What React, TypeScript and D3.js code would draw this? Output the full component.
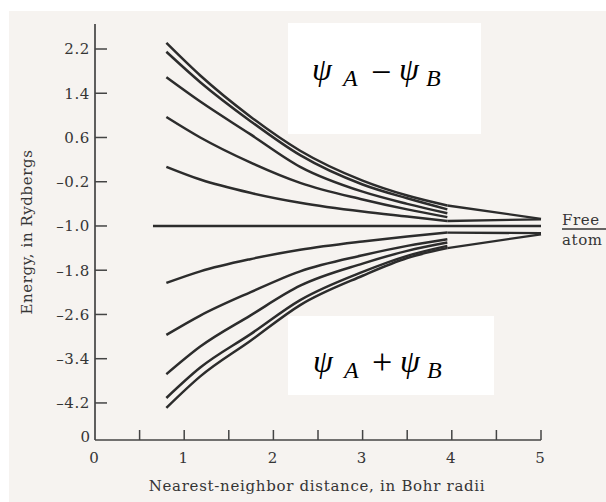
import React from "react";
import * as d3 from "d3";

const WIDTH = 606;
const HEIGHT = 502;

// Nearest-neighbour distances (Bohr radii) at which each level is sampled
const distances = [0.8, 1.18, 1.74, 2.3, 3.0, 3.5, 3.95];

// Antibonding branch (psi_A - psi_B), top curve first, in Rydbergs
const antibonding1 = [2.31, 1.72, 0.98, 0.36, -0.18, -0.45, -0.63];
const antibonding2 = [2.15, 1.6, 0.9, 0.28, -0.25, -0.5, -0.7];
const antibonding3 = [1.69, 1.25, 0.66, 0.07, -0.38, -0.6, -0.77];
const antibonding4 = [0.97, 0.6, 0.15, -0.22, -0.52, -0.7, -0.84];
const antibonding5 = [0.07, -0.16, -0.4, -0.58, -0.74, -0.83, -0.91];

// Bonding branch (psi_A + psi_B), top curve first, in Rydbergs
const bonding1 = [-2.03, -1.82, -1.6, -1.43, -1.28, -1.19, -1.12];
const bonding2 = [-2.97, -2.62, -2.2, -1.82, -1.53, -1.36, -1.24];
const bonding3 = [-3.68, -3.18, -2.62, -2.08, -1.68, -1.45, -1.3];
const bonding4 = [-4.11, -3.56, -2.96, -2.34, -1.83, -1.54, -1.36];
const bonding5 = [-4.29, -3.72, -3.08, -2.43, -1.9, -1.58, -1.4];

// Band edges running out to the free-atom limit
const tailDistances = [3.95, 5.0];
const antibondingOuterTail = [-0.63, -0.87];
const antibondingInnerTail = [-0.91, -0.88];
const bondingInnerTail = [-1.12, -1.13];
const bondingOuterTail = [-1.4, -1.15];

// Free-atom level
const freeAtomLevel = -1.0;
const freeAtomSpan = [0.65, 5.0];

// Axes
const yTickValues = [2.2, 1.4, 0.6, -0.2, -1.0, -1.8, -2.6, -3.4, -4.2];
const yTickLabels = ["2.2", "1.4", "0.6", "\u20130.2", "\u20131.0", "\u20131.8", "\u20132.6", "\u20133.4", "\u20134.2"];
const yFloor = -4.87; // broken-axis floor, labelled 0
const yFloorLabel = "0";
const yCeiling = 2.65;
const xTickValues = [0.5, 1, 1.5, 2, 2.5, 3, 3.5, 4, 4.5, 5];
const xLabelValues = [0, 1, 2, 3, 4, 5];
const xLabels = ["0", "1", "2", "3", "4", "5"];

const INK = "#2c2c2c";
const AXIS = "#444";
const TEXT = "#353535";
const PAPER = "#f6f3f0";
const SERIF = "'DejaVu Serif', serif";
const MATH = "'Liberation Serif', 'Times New Roman', serif";

function Combination({ x0, base, op, opShift }: { x0: number; base: number; op: string; opShift: number }) {
  // psi_A (op) psi_B laid out term by term
  return (
    <g fontFamily={MATH} fill="#000">
      <text x={x0} y={base} fontSize={32} fontStyle="italic">{"\u03C8"}</text>
      <text x={x0 + 31} y={base + 6} fontSize={24} fontStyle="italic">A</text>
      <text x={x0 + 59} y={base + opShift} fontSize={36}>{op}</text>
      <text x={x0 + 87} y={base} fontSize={32} fontStyle="italic">{"\u03C8"}</text>
      <text x={x0 + 114} y={base + 6} fontSize={24} fontStyle="italic">B</text>
    </g>
  );
}

export default function App() {
  const x = d3.scaleLinear().domain([0, 5]).range([95, 541]);
  const y = d3.scaleLinear().domain([yFloor, 2.2]).range([440, 49]);

  const smooth = d3
    .line<[number, number]>()
    .x((d) => x(d[0]))
    .y((d) => y(d[1]))
    .curve(d3.curveMonotoneX);
  const straight = d3
    .line<[number, number]>()
    .x((d) => x(d[0]))
    .y((d) => y(d[1]));

  const bands = [
    antibonding1, antibonding2, antibonding3, antibonding4, antibonding5,
    bonding1, bonding2, bonding3, bonding4, bonding5,
  ];
  const tails = [antibondingOuterTail, antibondingInnerTail, bondingInnerTail, bondingOuterTail];

  const pair = (xs: number[], ys: number[]) => xs.map((v, i) => [v, ys[i]] as [number, number]);

  const axisFloor = y(yFloor);
  const axisLeft = x(0);

  return (
    <svg width={WIDTH} height={HEIGHT} style={{ position: "absolute", left: 0, top: 0, background: "#ffffff" }}>
      <rect x={9} y={11} width={WIDTH - 9} height={HEIGHT - 11} fill={PAPER} />

      {/* label boxes */}
      <rect x={288} y={23} width={193} height={111} fill="#ffffff" />
      <rect x={288} y={316} width={206} height={79} fill="#ffffff" />

      {/* free-atom level */}
      <path
        d={straight([[freeAtomSpan[0], freeAtomLevel], [freeAtomSpan[1], freeAtomLevel]]) || ""}
        stroke={INK}
        strokeWidth={2.5}
        fill="none"
      />

      {/* energy levels vs distance */}
      {bands.map((vals, i) => (
        <path
          key={"b" + i}
          d={smooth(pair(distances, vals)) || ""}
          stroke={INK}
          strokeWidth={2.5}
          fill="none"
        />
      ))}
      {tails.map((vals, i) => (
        <path
          key={"t" + i}
          d={straight(pair(tailDistances, vals)) || ""}
          stroke={INK}
          strokeWidth={2.3}
          fill="none"
        />
      ))}

      {/* axes */}
      <line x1={axisLeft} x2={axisLeft} y1={y(yCeiling)} y2={axisFloor} stroke={AXIS} strokeWidth={1.7} />
      <line x1={axisLeft} x2={x(5)} y1={axisFloor} y2={axisFloor} stroke={AXIS} strokeWidth={1.7} />
      {yTickValues.map((v, i) => (
        <g key={"yt" + i}>
          <line x1={axisLeft} x2={axisLeft + 12} y1={y(v)} y2={y(v)} stroke={AXIS} strokeWidth={1.5} />
          <text
            x={axisLeft - 5}
            y={y(v)}
            dy="0.36em"
            textAnchor="end"
            fontFamily={SERIF}
            fontSize={15}
            letterSpacing={0.6}
            fill={TEXT}
          >
            {yTickLabels[i]}
          </text>
        </g>
      ))}
      <text x={axisLeft - 5} y={axisFloor} dy="0.1em" textAnchor="end" fontFamily={SERIF} fontSize={15} fill={TEXT}>
        {yFloorLabel}
      </text>
      {xTickValues.map((v, i) => (
        <line key={"xt" + i} x1={x(v)} x2={x(v)} y1={axisFloor} y2={axisFloor - 10} stroke={AXIS} strokeWidth={1.5} />
      ))}
      {xLabelValues.map((v, i) => (
        <text key={"xl" + i} x={x(v) - 1} y={463} textAnchor="middle" fontFamily={SERIF} fontSize={15} fill={TEXT}>
          {xLabels[i]}
        </text>
      ))}

      <text x={317} y={491} textAnchor="middle" fontFamily={SERIF} fontSize={15} letterSpacing={0.7} fill={TEXT}>
        Nearest-neighbor distance, in Bohr radii
      </text>
      <text
        transform="translate(32,232) rotate(-90)"
        textAnchor="middle"
        fontFamily={SERIF}
        fontSize={15}
        letterSpacing={0.6}
        fill={TEXT}
      >
        Energy, in Rydbergs
      </text>

      {/* free atom note */}
      <text x={562} y={225} fontFamily={SERIF} fontSize={15} letterSpacing={0.6} fill={TEXT}>Free</text>
      <line x1={562} x2={WIDTH} y1={229} y2={229} stroke={TEXT} strokeWidth={1.4} />
      <text x={562} y={245} fontFamily={SERIF} fontSize={15} letterSpacing={0.6} fill={TEXT}>atom</text>

      {/* wavefunction combinations */}
      <Combination x0={312} base={80} op={"\u2212"} opShift={4} />
      <Combination x0={313} base={372} op="+" opShift={2} />
    </svg>
  );
}
